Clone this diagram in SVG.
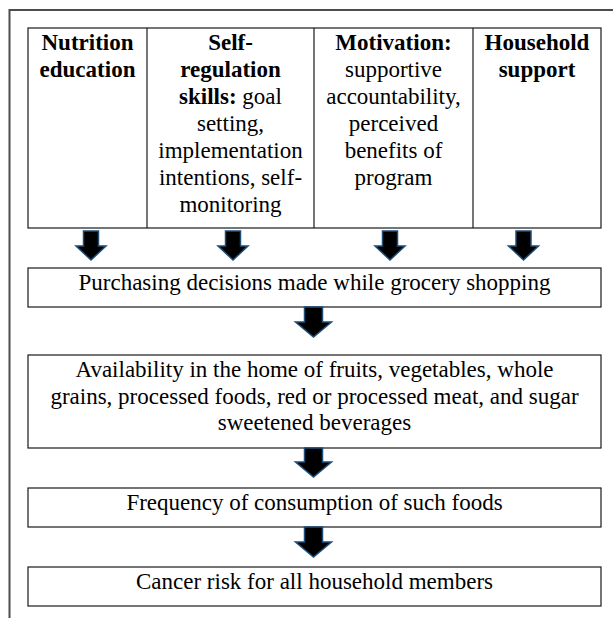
<svg xmlns="http://www.w3.org/2000/svg" width="613" height="618" viewBox="0 0 613 618">
<defs>
<style>
text{font-family:'Liberation Serif','DejaVu Serif',serif;font-size:23px;fill:#000;text-anchor:middle}
.b{font-weight:bold}
.box{fill:#fff;stroke:#1a1a1a;stroke-width:1.2}
.frame{fill:none;stroke:#4d4d4d;stroke-width:2}
.arr{fill:#000;stroke:#1f4e79;stroke-width:1.5;stroke-linejoin:miter}
</style>
</defs>
<rect width="613" height="618" fill="#fff"/>
<path class="frame" d="M613 10 H9.5 V618"/>
<g id="table">
<rect class="box" x="28" y="28" width="573" height="200"/>
<line x1="147" y1="28" x2="147" y2="228" stroke="#1a1a1a" stroke-width="1.2"/>
<line x1="314" y1="28" x2="314" y2="228" stroke="#1a1a1a" stroke-width="1.2"/>
<line x1="473" y1="28" x2="473" y2="228" stroke="#1a1a1a" stroke-width="1.2"/>
</g>
<g font-family="Liberation Serif, DejaVu Serif, serif">
<g id="nutrition">
<text class="b" x="87.5" y="50">Nutrition</text>
<text class="b" x="87.5" y="77">education</text>
</g>
<g id="selfreg">
<text class="b" x="230.5" y="50">Self-</text>
<text class="b" x="230.5" y="77">regulation</text>
<text x="230.5" y="104"><tspan class="b">skills:</tspan> goal</text>
<text x="230.5" y="131">setting,</text>
<text x="230.5" y="158">implementation</text>
<text x="230.5" y="185">intentions, self-</text>
<text x="230.5" y="212">monitoring</text>
</g>
<g id="motivation">
<text class="b" x="393.5" y="50">Motivation:</text>
<text x="393.5" y="77">supportive</text>
<text x="393.5" y="104">accountability,</text>
<text x="393.5" y="131">perceived</text>
<text x="393.5" y="158">benefits of</text>
<text x="393.5" y="185">program</text>
</g>
<g id="household">
<text class="b" x="537" y="50">Household</text>
<text class="b" x="537" y="77">support</text>
</g>
<g id="purchasing">
<rect class="box" x="28" y="268" width="573" height="39"/>
<text x="314.5" y="290">Purchasing decisions made while grocery shopping</text>
</g>
<g id="availability">
<rect class="box" x="28" y="355" width="573" height="93"/>
<text x="314.5" y="377">Availability in the home of fruits, vegetables, whole</text>
<text x="314.5" y="404">grains, processed foods, red or processed meat, and sugar</text>
<text x="314.5" y="430">sweetened beverages</text>
</g>
<g id="frequency">
<rect class="box" x="28" y="488" width="573" height="39"/>
<text x="314.5" y="510">Frequency of consumption of such foods</text>
</g>
<g id="cancer">
<rect class="box" x="28" y="567" width="573" height="39"/>
<text x="314.5" y="589">Cancer risk for all household members</text>
</g>
</g>
<g id="connectors">
<path class="arr" d="M83.5 231 H98.5 V246 H106 L91 260 L76 246 H83.5 Z"/>
<path class="arr" d="M225.5 231 H240.5 V246 H248 L233 260 L218 246 H225.5 Z"/>
<path class="arr" d="M382.5 231 H397.5 V246 H405 L390 260 L375 246 H382.5 Z"/>
<path class="arr" d="M516 231 H531 V246 H538.5 L523.5 260 L508.5 246 H516 Z"/>
<path class="arr" d="M304.5 307 H322.5 V322 H331.5 L313.5 337 L295.5 322 H304.5 Z"/>
<path class="arr" d="M304.5 448 H322.5 V462 H331.5 L313.5 477 L295.5 462 H304.5 Z"/>
<path class="arr" d="M304.5 527 H322.5 V542 H331.5 L313.5 557 L295.5 542 H304.5 Z"/>
</g>
</svg>
